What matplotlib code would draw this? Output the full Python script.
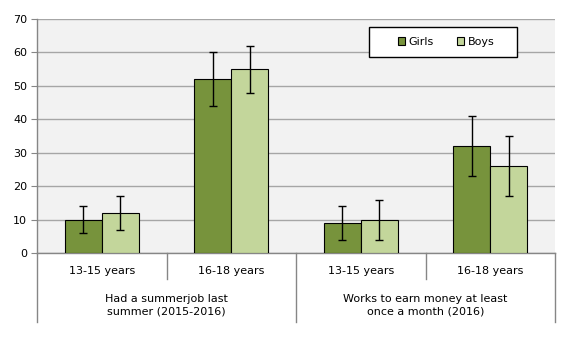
import matplotlib
matplotlib.use("Agg")
import matplotlib.pyplot as plt
from matplotlib.patches import Patch, Rectangle
import numpy as np

# data
age_groups = ["13-15 years", "16-18 years", "13-15 years", "16-18 years"]
groups = ["Had a summerjob last\nsummer (2015-2016)",
          "Works to earn money at least\nonce a month (2016)"]
girls = [10, 52, 9, 32]
boys = [12, 55, 10, 26]
girls_err = [4, 8, 5, 9]
boys_err = [5, 7, 6, 9]
yticks = [0, 10, 20, 30, 40, 50, 60, 70]

GIRLS_COL = "#77933C"
BOYS_COL = "#C3D69B"
GRID_COL = "#A6A6A6"
AXIS_COL = "#868686"
FS = 8

plt.rcParams["font.family"] = "DejaVu Sans"
plt.rcParams["font.size"] = FS

W, H = 567, 340
fig = plt.figure(figsize=(W / 100, H / 100), dpi=100)
left, right, top, bottom = 37, 555, 19, 253
ax = fig.add_axes([left / W, 1 - bottom / H, (right - left) / W, (bottom - top) / H])
ax.set_facecolor("#F2F2F2")

x = np.arange(len(age_groups))
bw = 0.286
err_kw = dict(ecolor="black", elinewidth=1, capsize=3.2, capthick=1)
ax.bar(x - bw / 2, girls, bw, color=GIRLS_COL, edgecolor="black", linewidth=0.8,
       yerr=girls_err, error_kw=err_kw, zorder=3)
ax.bar(x + bw / 2, boys, bw, color=BOYS_COL, edgecolor="black", linewidth=0.8,
       yerr=boys_err, error_kw=err_kw, zorder=3)

ax.set_xlim(-0.5, len(age_groups) - 0.5)
ax.set_ylim(0, 70)
ax.set_yticks(yticks)
ax.yaxis.grid(True, color=GRID_COL, linewidth=1, zorder=0)
ax.set_axisbelow(True)
ax.tick_params(axis="y", length=4, color=AXIS_COL, pad=3, labelsize=FS)
ax.set_xticks([])
for s in ["top", "right"]:
    ax.spines[s].set_visible(False)
for s in ["left", "bottom"]:
    ax.spines[s].set_color(AXIS_COL)
    ax.spines[s].set_linewidth(1)

# multi-level category axis
ph = bottom - top
pw = right - left
trans = ax.get_xaxis_transform()
for i, lab in enumerate(age_groups):
    ax.text(i, -18 / ph, lab, transform=trans, ha="center", va="center", fontsize=FS)
for j, lab in enumerate(groups):
    ax.text(2 * j + 0.5, -52 / ph, lab, transform=trans, ha="center", va="center",
            fontsize=FS, linespacing=1.35)
for xs in [0.5, 2.5]:
    ax.plot([xs, xs], [0, -26 / ph], transform=trans, color=AXIS_COL, lw=1, clip_on=False)
for xs in [-0.5, 1.5, 3.5]:
    ax.plot([xs, xs], [0, -69 / ph], transform=trans, color=AXIS_COL, lw=1, clip_on=False)

# legend box drawn separately so it can be wider than its content
box = Rectangle(((369 - left) / pw, (bottom - 57) / ph), 148 / pw, 30 / ph,
                transform=ax.transAxes, facecolor="white", edgecolor="black",
                linewidth=1, zorder=5)
ax.add_patch(box)
handles = [Patch(facecolor=GIRLS_COL, edgecolor="black", linewidth=0.8, label="Girls"),
           Patch(facecolor=BOYS_COL, edgecolor="black", linewidth=0.8, label="Boys")]
leg = ax.legend(handles=handles, loc="center", bbox_to_anchor=((446 - left) / pw, (bottom - 42) / ph),
                ncol=2, fontsize=FS, frameon=False, handlelength=0.65,
                handleheight=0.65, handletextpad=0.3, columnspacing=2.1,
                borderpad=0, borderaxespad=0)
leg.set_zorder(6)

fig.savefig("out.png", dpi=100)
